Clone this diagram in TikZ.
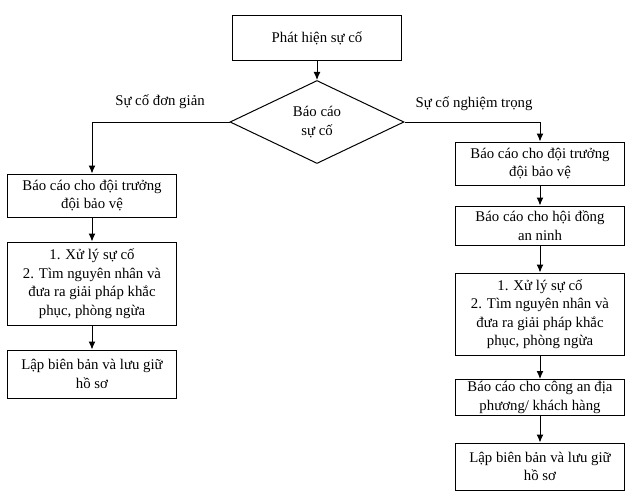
\documentclass[tikz,border=0pt]{standalone}
\usepackage{fontspec}
\setmainfont{Liberation Serif}
\usetikzlibrary{shapes.geometric,arrows.meta}
\tikzset{every node/.style={font=\fontsize{14.8}{18.5}\selectfont},
  box/.style={draw,line width=1pt,minimum width=169pt,inner sep=2pt,align=center},
  dec/.style={draw,diamond,line width=1pt,minimum width=174pt,minimum height=83pt,inner sep=0pt,aspect=2.1,align=center},
  flow/.style={line width=1pt,-{Latex[length=8pt,width=7pt]}}}

\begin{document}
\begin{tikzpicture}[x=1pt,y=-1pt]
      \useasboundingbox (0,0) rectangle (632,495);
      \node[box,minimum height=45pt] (start) at (317,38) {Phát hiện sự cố};
      \node[dec] (dec) at (317,122) {Báo cáo\\sự cố};
      \node (easy) at (160,102) {Sự cố đơn giản};
      \node (hard) at (474,104) {Sự cố nghiệm trọng};
      % nhanh trai
      \node[box,minimum height=43pt] (l1) at (92,195.5) {Báo cáo cho đội trưởng\\đội bảo vệ};
      \node[box,minimum height=83pt] (l2) at (92,283.5) {1. Xử lý sự cố\\2. Tìm nguyên nhân và\\đưa ra giải pháp khắc\\phục, phòng ngừa};
      \node[box,minimum height=48pt] (l3) at (92,374) {Lập biên bản và lưu giữ\\hồ sơ};
      % nhanh phai
      \node[box,minimum height=43pt] (r1) at (540,163.5) {Báo cáo cho đội trưởng\\đội bảo vệ};
      \node[box,minimum height=39pt] (r2) at (540,225.5) {Báo cáo cho hội đồng\\an ninh};
      \node[box,minimum height=82pt] (r3) at (540,314) {1. Xử lý sự cố\\2. Tìm nguyên nhân và\\đưa ra giải pháp khắc\\phục, phòng ngừa};
      \node[box,minimum height=35pt] (r4) at (540,397.5) {Báo cáo cho công an địa\\phương/ khách hàng};
      \node[box,minimum height=47pt] (r5) at (540,466.5) {Lập biên bản và lưu giữ\\hồ sơ};

\draw[flow] (start) -- (dec);
\draw[flow] (dec.west) -| (l1);
\draw[flow] (dec.east) -| (r1);
\foreach \a/\b in {l1/l2,l2/l3,r1/r2,r2/r3,r3/r4,r4/r5}
  \draw[flow] (\a) -- (\b);
    \end{tikzpicture}
\end{document}
